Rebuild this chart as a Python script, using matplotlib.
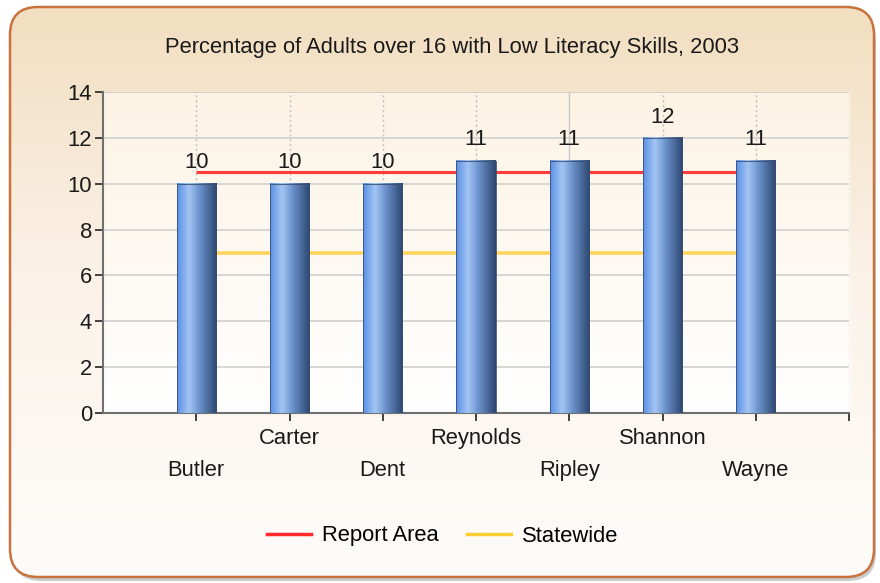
import matplotlib as mpl
mpl.use('Agg')
import numpy as np
import matplotlib.pyplot as plt
from matplotlib.patches import FancyBboxPatch
from matplotlib.colors import LinearSegmentedColormap
from matplotlib.lines import Line2D

plt.rcParams['font.family'] = ['Liberation Sans', 'DejaVu Sans']

counties = ['Butler', 'Carter', 'Dent', 'Reynolds', 'Ripley', 'Shannon', 'Wayne']
pct = [10, 10, 10, 11, 11, 12, 11]
report_area = [10.5, 10.5, 10.5, 10.5, 10.5, 10.5, 10.5]
statewide = [7.0, 7.0, 7.0, 7.0, 7.0, 7.0, 7.0]
yticks = [0, 2, 4, 6, 8, 10, 12, 14]

FS = 15.8
W, H = 880, 583
fig = plt.figure(figsize=(W / 100, H / 100), dpi=100)
fig.patch.set_facecolor('white')

# background frame with rounded corners and vertical gradient
bg = fig.add_axes([0, 0, 1, 1])
bg.set_xlim(0, W)
bg.set_ylim(0, H)
bg.axis('off')
shadow = FancyBboxPatch((13, 2), 863, 570, boxstyle='round,pad=0,rounding_size=28',
                        fc='#9a9a9a', ec='none', alpha=0.5)
bg.add_patch(shadow)
frame = FancyBboxPatch((10, 6), 864, 570, boxstyle='round,pad=0,rounding_size=28',
                       fc='none', ec='#c8733d', lw=1.8, zorder=3)
bg.add_patch(frame)
grad_cm = LinearSegmentedColormap.from_list('bgc', ['#fefcfa', '#fbf3ea', '#f2dec0'])
g = np.linspace(0, 1, 256).reshape(-1, 1)
im = bg.imshow(g, cmap=grad_cm, origin='lower', extent=[10, 874, 6, 576], aspect='auto', zorder=2)
im.set_clip_path(frame)

bg.text(452, H - 47, 'Percentage of Adults over 16 with Low Literacy Skills, 2003',
        ha='center', va='center', fontsize=FS, color='#1a1a1a', zorder=4)

# plot area
ax = fig.add_axes([103 / W, 1 - 413 / H, (849 - 103) / W, (413 - 92) / H])
ax.set_xlim(0, 8)
ax.set_ylim(0, 14)
ax.set_facecolor('none')
pa_cm = LinearSegmentedColormap.from_list('pac', ['#ffffff', '#fcf3e4'])
ax.imshow(g, cmap=pa_cm, origin='lower', extent=[0, 8, 0, 14], aspect='auto', zorder=0)

for yv in yticks[1:]:
    ax.axhline(yv, color='#d3d3d3', lw=1.3, zorder=1)
for xv in range(1, 9):
    if xv == 5:
        ax.axvline(xv, color='#c8c8c8', lw=1.0, zorder=1)
    else:
        ax.axvline(xv, color='#c0c0c0', lw=1.0, ls=(0, (1.5, 2)), zorder=1)

x = np.arange(1, len(counties) + 1)
ax.plot(x, report_area, color='#ff3b3b', lw=2.2, zorder=2, solid_capstyle='butt')
ax.plot(x, statewide, color='#ffd35c', lw=2.6, zorder=2, solid_capstyle='butt')

bar_cm = LinearSegmentedColormap.from_list(
    'bar', [(0, '#5a90e6'), (0.3, '#a3c5f3'), (0.55, '#6e95cf'), (1, '#2c4670')])
hg = np.linspace(0, 1, 128).reshape(1, -1)
bars = ax.bar(x, pct, width=0.42, color='none', edgecolor='#3a4f70', lw=0.6, zorder=4)
for b, v in zip(bars, pct):
    x0, w, h = b.get_x(), b.get_width(), b.get_height()
    ax.imshow(hg, cmap=bar_cm, extent=[x0, x0 + w, 0, h], aspect='auto', zorder=3)
    ax.text(x0 + w / 2, h + 0.45, str(v), ha='center', va='bottom', fontsize=FS, color='#1a1a1a')

for s in ['top', 'right']:
    ax.spines[s].set_visible(False)
ax.axhline(14, color='#cfcfcf', lw=1.3, zorder=1)
for s in ['left', 'bottom']:
    ax.spines[s].set_color('#707070')
    ax.spines[s].set_linewidth(1.5)

ax.set_yticks(yticks)
ax.set_yticklabels([str(t) for t in yticks])
ax.set_xticks(range(1, 9))
ax.set_xticklabels([])
ax.tick_params(axis='y', labelsize=FS, length=6, width=1.3, color='#333333', labelcolor='#1a1a1a', pad=2)
ax.tick_params(axis='x', length=6, width=1.3, color='#333333')

tr = ax.get_xaxis_transform()
for i, name in enumerate(counties):
    yy = -0.078 if i % 2 == 1 else -0.178
    ax.text(x[i], yy, name, transform=tr, ha='center', va='center', fontsize=FS, color='#1a1a1a')

handles = [Line2D([], [], color='#ff2a2a', lw=2.5), Line2D([], [], color='#ffcc33', lw=2.5)]
fig.legend(handles, ['Report Area', 'Statewide'], loc='center', bbox_to_anchor=(443 / W, 1 - 536 / H),
           ncol=2, frameon=False, fontsize=FS, handlelength=2.0, columnspacing=1.3, handletextpad=0.5)

plt.savefig('out.png', dpi=100)
